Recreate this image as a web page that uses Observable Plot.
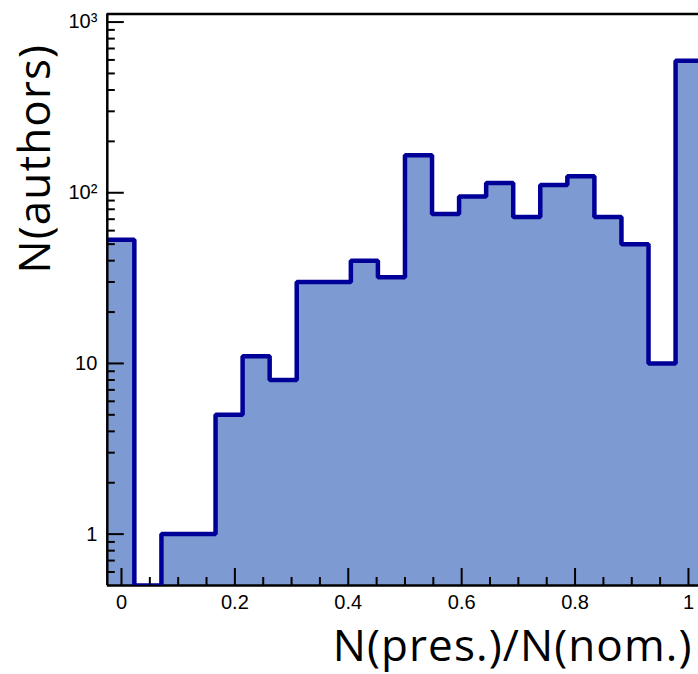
<!DOCTYPE html>
<html>
<head>
<meta charset="utf-8">
<script src="https://cdn.jsdelivr.net/npm/d3@7"></script>
<script src="https://cdn.jsdelivr.net/npm/@observablehq/plot@0.6"></script>
<style>
  html, body { margin: 0; padding: 0; background: #fff; overflow: hidden; }
  g[aria-label="text"] text { letter-spacing: 1.1px; }
</style>
</head>
<body>
<div id="chart"></div>
<script>
// Histogram bin edges (22 bins from -0.025 to 1.025)
const binEdges = [-0.025, 0.02273, 0.07045, 0.11818, 0.16591, 0.21364, 0.26136, 0.30909,
  0.35682, 0.40455, 0.45227, 0.5, 0.54773, 0.59545, 0.64318, 0.69091, 0.73864, 0.78636,
  0.83409, 0.88182, 0.92955, 0.97727, 1.025];
// Bin contents: N(authors)
const counts = [53, 0, 1, 1, 5, 11, 8, 30, 30, 40, 32, 166, 75, 95, 114, 72, 111, 125, 72, 50, 10, 593];

const xDomain = [-0.025, 1.0177];
const yDomain = [0.5, 1115];

const xMajor = [0, 0.2, 0.4, 0.6, 0.8, 1];
const xMajorLabels = ["0", "0.2", "0.4", "0.6", "0.8", "1"];
const xMinor = [0.05, 0.1, 0.15, 0.25, 0.3, 0.35, 0.45, 0.5, 0.55, 0.65, 0.7, 0.75, 0.85, 0.9, 0.95];
const yMajor = [1, 10, 100, 1000];
const yMajorLabels = ["1", "10", "10²", "10³"];
const yMinor = [0.6, 0.7, 0.8, 0.9, 2, 3, 4, 5, 6, 7, 8, 9, 20, 30, 40, 50, 60, 70, 80, 90,
  200, 300, 400, 500, 600, 700, 800, 900];

const xTitle = "N(pres.)/N(nom.)";
const yTitle = "N(authors)";

const W = 698, H = 674;
const mL = 106.8, mR = 0, mT = 13.5, mB = 89;
const plotW = W - mL - mR, plotH = H - mT - mB;

const fillColor = "#7d9bd2";
const lineColor = "#000099";

// Outline corner points built from bins
const outline = counts.flatMap((c, i) => {
  const v = Math.max(c, yDomain[0]);
  return [{x: binEdges[i], v}, {x: binEdges[i + 1], v}];
});

const chart = Plot.plot({
  width: W,
  height: H,
  marginLeft: mL,
  marginRight: mR,
  marginTop: mT,
  marginBottom: mB,
  style: {fontFamily: "'Liberation Sans', Arial, sans-serif", background: "#fff"},
  x: {domain: xDomain, axis: null},
  y: {type: "log", domain: yDomain, axis: null},
  marks: [
    Plot.areaY(outline, {x: "x", y1: () => yDomain[0], y2: "v", fill: fillColor, curve: "linear", clip: true}),
    // bottom frame line (under the outline)
    Plot.ruleY([yDomain[0]], {stroke: "black", strokeWidth: 2.5}),
    Plot.line(outline, {x: "x", y: "v", stroke: lineColor, strokeWidth: 4.5, strokeLinejoin: "miter", curve: "linear", clip: true}),
    // ticks (inward)
    Plot.tickY(yMajor, {y: d => d, stroke: "black", strokeWidth: 2, insetRight: plotW - 17}),
    Plot.tickY(yMinor, {y: d => d, stroke: "black", strokeWidth: 2, insetRight: plotW - 8}),
    Plot.tickX(xMajor, {x: d => d, stroke: "black", strokeWidth: 2, insetTop: plotH - 17}),
    Plot.tickX(xMinor, {x: d => d, stroke: "black", strokeWidth: 2, insetTop: plotH - 8}),
    // frame (left, top)
    Plot.ruleX([xDomain[0]], {stroke: "black", strokeWidth: 2.5}),
    Plot.ruleY([yDomain[1]], {stroke: "black", strokeWidth: 2.5}),
    // tick labels
    Plot.axisY({ticks: yMajor, tickSize: 0, tickPadding: 10, fontSize: 20,
      tickFormat: d => yMajorLabels[yMajor.indexOf(d)], label: null}),
    Plot.axisX({ticks: xMajor, tickSize: 0, tickPadding: 9, fontSize: 20,
      tickFormat: d => xMajorLabels[xMajor.indexOf(d)], label: null}),
    // axis titles
    Plot.text([xTitle], {text: d => d, frameAnchor: "bottom-right", textAnchor: "end", lineAnchor: "bottom",
      dx: -6, dy: 75, fontSize: 44, fontFamily: "'Open Sans', sans-serif", fill: "black"}),
    Plot.text([yTitle], {text: d => d, frameAnchor: "bottom-left", textAnchor: "start", lineAnchor: "bottom",
      rotate: -90, dx: -57, dy: -312, fontSize: 44, fontFamily: "'Open Sans', sans-serif", fill: "black"})
  ]
});

document.getElementById("chart").appendChild(chart);
</script>
</body>
</html>
